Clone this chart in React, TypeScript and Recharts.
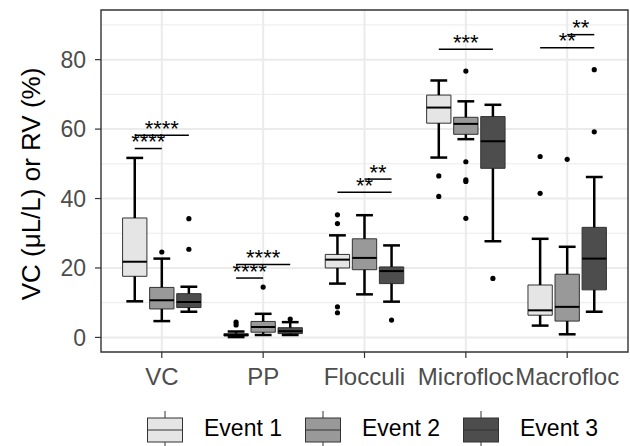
import React from 'react';
import {
  ComposedChart,
  XAxis,
  YAxis,
  CartesianGrid,
  ReferenceArea,
  ReferenceLine,
  Scatter,
  Legend,
} from 'recharts';

const categories = ['VC', 'PP', 'Flocculi', 'Microfloc', 'Macrofloc'];
const eventNames = ['Event 1', 'Event 2', 'Event 3'];
const eventFills = ['#E5E5E5', '#999999', '#4D4D4D'];

// [lower whisker, Q1, median, Q3, upper whisker] per category
const event1Boxes = [
  [10.4, 17.6, 21.8, 34.4, 51.7],
  [0.1, 0.4, 0.7, 1.1, 1.7],
  [15.5, 20.0, 22.4, 23.9, 29.4],
  [51.8, 61.7, 66.2, 69.8, 74.0],
  [3.4, 6.4, 7.8, 15.1, 28.4],
];
const event2Boxes = [
  [4.7, 8.2, 10.7, 14.4, 22.7],
  [0.7, 1.5, 3.0, 4.6, 6.8],
  [12.4, 19.5, 22.9, 28.4, 35.2],
  [57.1, 58.5, 61.5, 63.4, 68.0],
  [0.9, 4.7, 8.8, 18.2, 26.1],
];
const event3Boxes = [
  [7.4, 8.6, 10.2, 12.6, 14.6],
  [0.7, 1.1, 1.8, 2.8, 4.4],
  [10.3, 15.5, 19.1, 20.3, 26.5],
  [27.7, 48.7, 56.5, 63.6, 67.0],
  [7.4, 13.7, 22.7, 31.7, 46.2],
];

const event1Outliers = [[], [4.4, 3.6], [35.3, 32.8, 8.8, 7.1], [46.5, 40.6], [52.1, 41.5]];
const event2Outliers = [[24.6], [14.5], [], [76.7, 50.6, 45.4, 44.9, 34.3], [51.3]];
const event3Outliers = [[34.2, 25.4], [5.3], [5.0], [17.0], [77.1, 59.2]];

// significance brackets
const sigCategory = [0, 0, 1, 1, 2, 2, 3, 4, 4];
const sigFrom = [0, 0, 0, 0, 0, 1, 0, 0, 1];
const sigTo = [1, 2, 1, 2, 2, 2, 2, 2, 2];
const sigY = [54.4, 58.2, 17.1, 21.0, 41.8, 45.6, 83.0, 83.4, 87.2];
const sigLabel = ['****', '****', '****', '****', '**', '**', '***', '**', '**'];

const yTicks = [0, 20, 40, 60, 80];
const yMinor = [10, 30, 50, 70, 90];

const allBoxes = [event1Boxes, event2Boxes, event3Boxes];
const allOutliers = [event1Outliers, event2Outliers, event3Outliers];

const FONT = '"Liberation Sans", Arial, Helvetica, sans-serif';
const DODGE = [-0.267, 0, 0.267];
const HALF_BOX = 0.12;
const HALF_CAP = 0.083;

const xPos = (cat: number, ev: number) => cat + 1 + DODGE[ev];

const StarLabel = (props: any) => {
  const { viewBox, text } = props;
  if (!viewBox) return null;
  const x = viewBox.x + viewBox.width / 2;
  const y = viewBox.y;
  return (
    <text x={x} y={y + 0.5} textAnchor="middle" fontSize={22} fontFamily={FONT} fill="#000">
      {text}
    </text>
  );
};

const YTitle = (props: any) => {
  const { viewBox } = props;
  if (!viewBox) return null;
  const cx = 40;
  const cy = viewBox.y + viewBox.height / 2 + 3;
  return (
    <text
      x={cx}
      y={cy}
      transform={`rotate(-90, ${cx}, ${cy})`}
      textAnchor="middle"
      fontSize={26}
      fontFamily={FONT}
      fill="#000"
    >
      VC (μL/L) or RV (%)
    </text>
  );
};

const LegendContent = () => (
  <div
    style={{
      display: 'flex',
      alignItems: 'center',
      height: 40,
      width: 630,
      paddingLeft: 147,
      boxSizing: 'border-box',
      fontFamily: FONT,
    }}
  >
    {eventNames.map((name, i) => (
      <div key={name} style={{ display: 'flex', alignItems: 'center', marginRight: 23 }}>
        <svg width={36} height={40} style={{ display: 'block' }}>
          <line x1={18} x2={18} y1={5} y2={12} stroke="#333" strokeWidth={1} />
          <line x1={18} x2={18} y1={36} y2={40} stroke="#333" strokeWidth={1} />
          <rect x={0.5} y={12} width={35} height={24} fill={eventFills[i]} stroke="#333" strokeWidth={1} />
          <line x1={0.5} x2={35.5} y1={24} y2={24} stroke="#333" strokeWidth={1} />
        </svg>
        <span style={{ marginLeft: 21, fontSize: 23, color: '#000', lineHeight: '40px', position: 'relative', top: 2 }}>{name}</span>
      </div>
    ))}
  </div>
);

export default function App() {
  const outlierData = allOutliers.map((ev, e) =>
    ev.flatMap((vals, c) => vals.map((v) => ({ x: xPos(c, e), y: v })))
  );

  const boxes: React.ReactNode[] = [];
  allBoxes.forEach((ev, e) => {
    ev.forEach((s, c) => {
      const x = xPos(c, e);
      const [lo, q1, med, q3, hi] = s;
      boxes.push(
        <ReferenceLine
          key={`wu-${e}-${c}`}
          segment={[{ x, y: q3 }, { x, y: hi }]}
          stroke="#000"
          strokeWidth={2.5}
          ifOverflow="visible"
        />,
        <ReferenceLine
          key={`wl-${e}-${c}`}
          segment={[{ x, y: lo }, { x, y: q1 }]}
          stroke="#000"
          strokeWidth={2.5}
          ifOverflow="visible"
        />,
        <ReferenceLine
          key={`cu-${e}-${c}`}
          segment={[{ x: x - HALF_CAP, y: hi }, { x: x + HALF_CAP, y: hi }]}
          stroke="#000"
          strokeWidth={2.5}
          ifOverflow="visible"
        />,
        <ReferenceLine
          key={`cl-${e}-${c}`}
          segment={[{ x: x - HALF_CAP, y: lo }, { x: x + HALF_CAP, y: lo }]}
          stroke="#000"
          strokeWidth={2.5}
          ifOverflow="visible"
        />,
        <ReferenceArea
          key={`b-${e}-${c}`}
          x1={x - HALF_BOX}
          x2={x + HALF_BOX}
          y1={q1}
          y2={q3}
          fill={eventFills[e]}
          fillOpacity={1}
          stroke="#333333"
          strokeWidth={1}
          ifOverflow="visible"
        />,
        <ReferenceLine
          key={`m-${e}-${c}`}
          segment={[{ x: x - HALF_BOX, y: med }, { x: x + HALF_BOX, y: med }]}
          stroke="#000"
          strokeWidth={2}
          ifOverflow="visible"
        />
      );
    });
  });

  const sigs = sigCategory.map((c, i) => (
    <ReferenceLine
      key={`s-${i}`}
      segment={[
        { x: xPos(c, sigFrom[i]), y: sigY[i] },
        { x: xPos(c, sigTo[i]), y: sigY[i] },
      ]}
      stroke="#000"
      strokeWidth={1.5}
      ifOverflow="visible"
      label={<StarLabel text={sigLabel[i]} />}
    />
  ));

  return (
    <div style={{ position: 'absolute', left: 0, top: 0, background: '#fff' }}>
      <ComposedChart
        width={630}
        height={446}
        margin={{ top: 10, right: 2, left: 0, bottom: 0 }}
        style={{ fontFamily: FONT }}
      >
        <CartesianGrid
          horizontal
          vertical={false}
          horizontalValues={yMinor}
          stroke="#EBEBEB"
          strokeWidth={1}
        />
        <CartesianGrid
          horizontalValues={yTicks}
          verticalValues={[1, 2, 3, 4, 5]}
          stroke="#EBEBEB"
          strokeWidth={2}
        />
        <XAxis
          type="number"
          dataKey="x"
          domain={[0.4, 5.6]}
          ticks={[1, 2, 3, 4, 5]}
          tickFormatter={(v: number) => categories[v - 1]}
          allowDataOverflow
          height={54}
          tickSize={6}
          tickMargin={10}
          axisLine={false}
          tickLine={{ stroke: '#333', strokeWidth: 1.2 }}
          tick={{ fontSize: 24, fill: '#4D4D4D', fontFamily: FONT }}
          interval={0}
        />
        <YAxis
          type="number"
          dataKey="y"
          domain={[-4.2, 94.3]}
          ticks={yTicks}
          allowDataOverflow
          width={101}
          tickSize={6}
          tickMargin={9}
          axisLine={false}
          tickLine={{ stroke: '#333', strokeWidth: 1.2 }}
          tick={{ fontSize: 23, fill: '#4D4D4D', fontFamily: FONT }}
          label={<YTitle />}
        />
        {boxes}
        {eventNames.map((name, e) => (
          <Scatter
            key={name}
            name={name}
            data={outlierData[e]}
            fill="#000"
            isAnimationActive={false}
            shape={(p: any) => <circle cx={p.cx} cy={p.cy} r={2.6} fill="#000" />}
          />
        ))}
        {sigs}
        <ReferenceArea
          x1={0.4}
          x2={5.6}
          y1={-4.2}
          y2={94.3}
          fill="none"
          fillOpacity={0}
          stroke="#333333"
          strokeWidth={1.4}
          ifOverflow="visible"
        />
        <Legend
          verticalAlign="bottom"
          align="left"
          height={40}
          content={() => <LegendContent />}
          wrapperStyle={{ left: 0, bottom: 0, width: 630, height: 40 }}
        />
      </ComposedChart>
    </div>
  );
}
